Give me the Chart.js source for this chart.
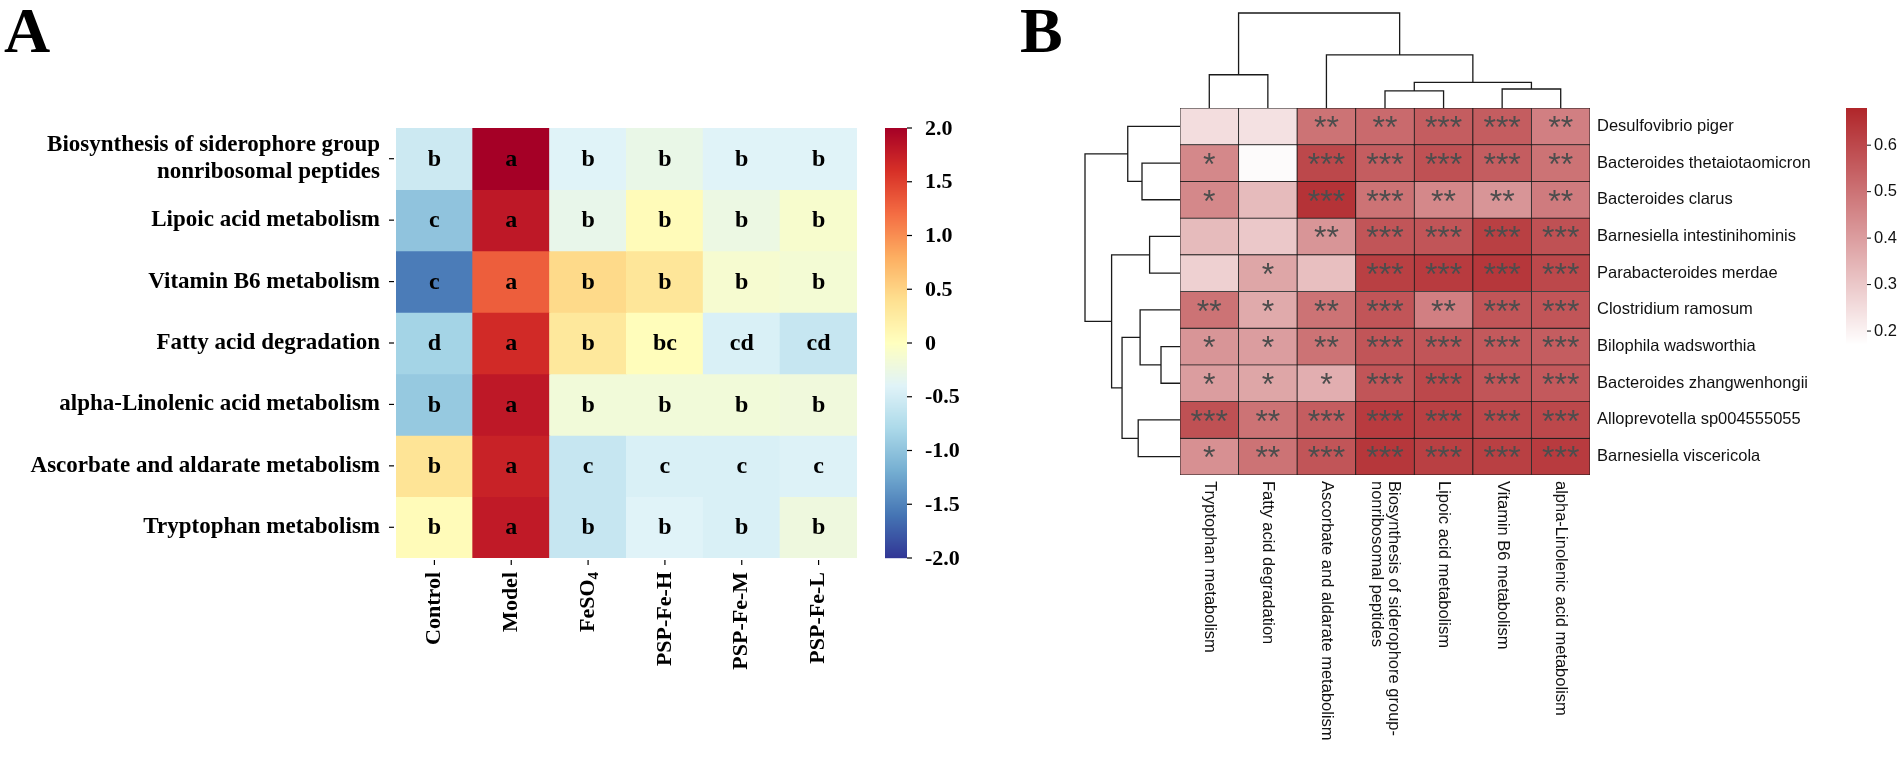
<!DOCTYPE html>
<html>
<head>
<meta charset="utf-8">
<script src="https://cdn.jsdelivr.net/npm/chart.js@4.4.1/dist/chart.umd.min.js"></script>
<style>
html, body { margin: 0; padding: 0; background: #fff; }
#wrap { position: relative; width: 1902px; height: 773px; overflow: hidden; }
canvas { position: absolute; top: 0; }
</style>
</head>
<body>
<div id="wrap">
    <canvas id="panel-a" width="1000" height="773" style="left:0px"></canvas>
    <canvas id="panel-b" width="902" height="773" style="left:1000px"></canvas>
</div>
<script>
// ---------- panel A data ----------
const groupsA = ['Control', 'Model', 'FeSO4', 'PSP-Fe-H', 'PSP-Fe-M', 'PSP-Fe-L'];
const pathwaysA = [
    ['Biosynthesis of siderophore group', 'nonribosomal peptides'],
    ['Lipoic acid metabolism'],
    ['Vitamin B6 metabolism'],
    ['Fatty acid degradation'],
    ['alpha-Linolenic acid metabolism'],
    ['Ascorbate and aldarate metabolism'],
    ['Tryptophan metabolism']
];
const zscoresA = [
    [-0.55, 2.0, -0.4, -0.28, -0.4, -0.4],
    [-1.0, 1.8, -0.3, 0.05, -0.25, -0.1],
    [-1.55, 1.3, 0.45, 0.32, -0.12, -0.15],
    [-0.85, 1.65, 0.3, 0.03, -0.45, -0.6],
    [-0.95, 1.8, -0.18, -0.18, -0.18, -0.2],
    [0.35, 1.72, -0.6, -0.45, -0.45, -0.42],
    [0.05, 1.78, -0.6, -0.4, -0.45, -0.22]
];
const lettersA = [
    ['b', 'a', 'b', 'b', 'b', 'b'],
    ['c', 'a', 'b', 'b', 'b', 'b'],
    ['c', 'a', 'b', 'b', 'b', 'b'],
    ['d', 'a', 'b', 'bc', 'cd', 'cd'],
    ['b', 'a', 'b', 'b', 'b', 'b'],
    ['b', 'a', 'c', 'c', 'c', 'c'],
    ['b', 'a', 'b', 'b', 'b', 'b']
];
const cbarTicksA = [2.0, 1.5, 1.0, 0.5, 0, -0.5, -1.0, -1.5, -2.0];
const cbarTickTextA = ['2.0', '1.5', '1.0', '0.5', '0', '-0.5', '-1.0', '-1.5', '-2.0'];

// ---------- panel B data ----------
const pathwaysB = [
    ['Tryptophan metabolism'],
    ['Fatty acid degradation'],
    ['Ascorbate and aldarate metabolism'],
    ['Biosynthesis of siderophore group-', 'nonribosomal peptides'],
    ['Lipoic acid metabolism'],
    ['Vitamin B6 metabolism'],
    ['alpha-Linolenic acid metabolism']
];
const speciesB = [
    'Desulfovibrio piger',
    'Bacteroides thetaiotaomicron',
    'Bacteroides clarus',
    'Barnesiella intestinihominis',
    'Parabacteroides merdae',
    'Clostridium ramosum',
    'Bilophila wadsworthia',
    'Bacteroides zhangwenhongii',
    'Alloprevotella sp004555055',
    'Barnesiella viscericola'
];
const corrB = [
    [0.25, 0.24, 0.50, 0.52, 0.55, 0.55, 0.47],
    [0.45, 0.18, 0.60, 0.55, 0.58, 0.55, 0.50],
    [0.45, 0.33, 0.65, 0.50, 0.45, 0.42, 0.48],
    [0.33, 0.30, 0.42, 0.57, 0.57, 0.62, 0.58],
    [0.28, 0.38, 0.32, 0.62, 0.63, 0.64, 0.60],
    [0.50, 0.37, 0.50, 0.57, 0.47, 0.57, 0.57],
    [0.42, 0.40, 0.50, 0.57, 0.57, 0.56, 0.55],
    [0.40, 0.38, 0.36, 0.57, 0.60, 0.57, 0.56],
    [0.58, 0.50, 0.55, 0.63, 0.62, 0.60, 0.60],
    [0.43, 0.50, 0.57, 0.64, 0.62, 0.62, 0.63]
];
const starsB = [
    ['', '', '**', '**', '***', '***', '**'],
    ['*', '', '***', '***', '***', '***', '**'],
    ['*', '', '***', '***', '**', '**', '**'],
    ['', '', '**', '***', '***', '***', '***'],
    ['', '*', '', '***', '***', '***', '***'],
    ['**', '*', '**', '***', '**', '***', '***'],
    ['*', '*', '**', '***', '***', '***', '***'],
    ['*', '*', '*', '***', '***', '***', '***'],
    ['***', '**', '***', '***', '***', '***', '***'],
    ['*', '**', '***', '***', '***', '***', '***']
];
// linkage: [childA, childB, height]; leaves are 0..n-1 in display order, merges get n, n+1, ...
const colLinkB = [[3, 4, 0.18], [5, 6, 0.20], [7, 8, 0.27], [0, 1, 0.35], [2, 9, 0.56], [10, 11, 1.0]];
const rowLinkB = [[6, 7, 0.20], [1, 2, 0.40], [3, 4, 0.32], [5, 10, 0.42], [8, 9, 0.44],
                  [0, 11, 0.55], [13, 14, 0.61], [12, 16, 0.72], [15, 17, 1.0]];
const cbarMinB = 0.17;
const cbarMaxB = 0.68;
const cbarTicksB = [0.6, 0.5, 0.4, 0.3, 0.2];

// ---------- colour maps ----------
const rdylbuStops = ['#313695', '#4575b4', '#74add1', '#abd9e9', '#e0f3f8', '#ffffbf',
                     '#fee090', '#fdae61', '#f46d43', '#d73027', '#a50026'];
function hexRgb(h) {
    return [parseInt(h.slice(1, 3), 16), parseInt(h.slice(3, 5), 16), parseInt(h.slice(5, 7), 16)];
}
function rdylbu(v) {
    let t = Math.max(0, Math.min(1, (v + 2) / 4)) * 10;
    let i = Math.min(9, Math.floor(t));
    let f = t - i;
    let a = hexRgb(rdylbuStops[i]), b = hexRgb(rdylbuStops[i + 1]);
    let c = a.map((x, k) => Math.round(x + (b[k] - x) * f));
    return `rgb(${c[0]},${c[1]},${c[2]})`;
}
function reds(v) {
    let t = Math.max(0, Math.min(1, (v - cbarMinB) / (cbarMaxB - cbarMinB)));
    let lo = [255, 255, 255], hi = [176, 38, 42];
    let c = lo.map((x, k) => Math.round(x + (hi[k] - x) * t));
    return `rgb(${c[0]},${c[1]},${c[2]})`;
}

const serif = '"Liberation Serif", "Times New Roman", serif';
const sans = '"Liberation Sans", Arial, sans-serif';

// ---------- panel A ----------
const panelAPlugin = {
    id: 'panelA',
    afterDatasetsDraw(chart) {
        const ctx = chart.ctx;
        const xs = chart.scales.x, ys = chart.scales.y;
        const area = chart.chartArea;
        ctx.save();
        ctx.fillStyle = '#000';
        ctx.strokeStyle = '#000';

        // letters in the cells
        ctx.font = 'bold 24px ' + serif;
        ctx.textAlign = 'center';
        ctx.textBaseline = 'middle';
        lettersA.forEach((row, i) => {
            row.forEach((txt, j) => {
                ctx.fillText(txt, xs.getPixelForValue(j), ys.getPixelForValue(i + 0.5) + 1);
            });
        });

        // row labels + ticks
        ctx.font = 'bold 23px ' + serif;
        ctx.textAlign = 'right';
        ctx.lineWidth = 1.2;
        pathwaysA.forEach((lines, i) => {
            const cy = ys.getPixelForValue(i + 0.5);
            const lh = 27;
            lines.forEach((ln, k) => {
                ctx.fillText(ln, area.left - 16, cy + (k - (lines.length - 1) / 2) * lh);
            });
            ctx.beginPath();
            ctx.moveTo(area.left - 7, cy);
            ctx.lineTo(area.left - 2, cy);
            ctx.stroke();
        });

        // column labels (rotated) + ticks
        groupsA.forEach((g, j) => {
            const cx = xs.getPixelForValue(j);
            ctx.beginPath();
            ctx.moveTo(cx, area.bottom + 2);
            ctx.lineTo(cx, area.bottom + 7);
            ctx.stroke();
            ctx.save();
            ctx.translate(cx, area.bottom + 14);
            ctx.rotate(-Math.PI / 2);
            ctx.textBaseline = 'middle';
            ctx.font = 'bold 22px ' + serif;
            if (g === 'FeSO4') {
                const w1 = ctx.measureText('FeSO').width;
                ctx.font = 'bold 15px ' + serif;
                const w2 = ctx.measureText('4').width;
                ctx.textAlign = 'left';
                ctx.font = 'bold 22px ' + serif;
                ctx.fillText('FeSO', -(w1 + w2), 0);
                ctx.font = 'bold 15px ' + serif;
                ctx.fillText('4', -w2, 6);
            } else {
                ctx.textAlign = 'right';
                ctx.fillText(g, 0, 0);
            }
            ctx.restore();
        });

        // colour bar
        const cbL = area.right + 28, cbW = 22;
        const cbT = area.top, cbB = area.bottom;
        for (let y = cbT; y < cbB; y++) {
            const v = 2 - (y + 0.5 - cbT) / (cbB - cbT) * 4;
            ctx.fillStyle = rdylbu(v);
            ctx.fillRect(cbL, y, cbW, 1.2);
        }
        ctx.fillStyle = '#000';
        ctx.font = 'bold 22px ' + serif;
        ctx.textAlign = 'left';
        ctx.textBaseline = 'middle';
        cbarTicksA.forEach((v, k) => {
            const y = cbT + (2 - v) / 4 * (cbB - cbT);
            ctx.beginPath();
            ctx.moveTo(cbL + cbW, y);
            ctx.lineTo(cbL + cbW + 5, y);
            ctx.stroke();
            ctx.fillText(cbarTickTextA[k], cbL + cbW + 18, y + 1);
        });

        // panel letter
        ctx.font = 'bold 64px ' + serif;
        ctx.textAlign = 'left';
        ctx.textBaseline = 'alphabetic';
        ctx.fillText('A', 4, 52);
        ctx.restore();
    }
};

new Chart(document.getElementById('panel-a'), {
    type: 'bar',
    data: {
        labels: groupsA,
        datasets: zscoresA.map((row, i) => ({
            label: pathwaysA[i].join(' '),
            data: row.map(() => [i, i + 1]),
            backgroundColor: row.map(v => rdylbu(v)),
            borderWidth: 0,
            inflateAmount: 0.5,
            grouped: false,
            barPercentage: 1,
            categoryPercentage: 1
        }))
    },
    options: {
        responsive: false,
        animation: false,
        devicePixelRatio: 1,
        events: [],
        layout: { padding: { left: 396, right: 143, top: 128, bottom: 215 } },
        plugins: { legend: { display: false }, tooltip: { enabled: false } },
        scales: {
            x: { display: false, offset: true, grid: { display: false } },
            y: { display: false, min: 0, max: 7, reverse: true }
        }
    },
    plugins: [panelAPlugin]
});

// ---------- panel B ----------
function drawDendrogram(ctx, link, leafPos, n, baseline, length, vertical) {
    // vertical=true: tree above the heatmap (columns); false: tree to the left (rows)
    const pos = leafPos.slice();
    const hgt = new Array(n).fill(0);
    ctx.beginPath();
    link.forEach(([a, b, h]) => {
        const pa = pos[a], pb = pos[b];
        const ha = hgt[a], hb = hgt[b];
        if (vertical) {
            ctx.moveTo(pa, baseline - ha * length);
            ctx.lineTo(pa, baseline - h * length);
            ctx.lineTo(pb, baseline - h * length);
            ctx.lineTo(pb, baseline - hb * length);
        } else {
            ctx.moveTo(baseline - ha * length, pa);
            ctx.lineTo(baseline - h * length, pa);
            ctx.lineTo(baseline - h * length, pb);
            ctx.lineTo(baseline - hb * length, pb);
        }
        pos.push((pa + pb) / 2);
        hgt.push(h);
    });
    ctx.stroke();
}

const panelBPlugin = {
    id: 'panelB',
    afterDatasetsDraw(chart) {
        const ctx = chart.ctx;
        const xs = chart.scales.x, ys = chart.scales.y;
        const area = chart.chartArea;
        ctx.save();

        // stars
        ctx.fillStyle = '#4d4d4d';
        ctx.font = '32px ' + sans;
        ctx.textAlign = 'center';
        ctx.textBaseline = 'middle';
        starsB.forEach((row, i) => {
            row.forEach((s, j) => {
                if (s) ctx.fillText(s, xs.getPixelForValue(j), ys.getPixelForValue(i + 0.5) + 3);
            });
        });

        // dendrograms
        ctx.strokeStyle = '#1a1a1a';
        ctx.lineWidth = 1.3;
        const colPos = pathwaysB.map((p, j) => xs.getPixelForValue(j));
        drawDendrogram(ctx, colLinkB, colPos, colPos.length, area.top, 95, true);
        const rowPos = speciesB.map((s, i) => ys.getPixelForValue(i + 0.5));
        drawDendrogram(ctx, rowLinkB, rowPos, rowPos.length, area.left, 95, false);

        // row labels
        ctx.fillStyle = '#111';
        ctx.font = '16.5px ' + sans;
        ctx.textAlign = 'left';
        ctx.textBaseline = 'middle';
        speciesB.forEach((s, i) => {
            ctx.fillText(s, area.right + 7, ys.getPixelForValue(i + 0.5));
        });

        // column labels (rotated clockwise)
        pathwaysB.forEach((lines, j) => {
            const cx = xs.getPixelForValue(j);
            ctx.save();
            ctx.translate(cx, area.bottom + 6);
            ctx.rotate(Math.PI / 2);
            ctx.textAlign = 'left';
            ctx.textBaseline = 'middle';
            const lh = 17;
            lines.forEach((ln, k) => {
                ctx.fillText(ln, 0, (k - (lines.length - 1) / 2) * lh);
            });
            ctx.restore();
        });

        // colour bar
        const cbL = area.right + 256, cbW = 21;
        const cbT = area.top, cbB = area.top + 237;
        for (let y = cbT; y < cbB; y++) {
            const v = cbarMaxB - (y + 0.5 - cbT) / (cbB - cbT) * (cbarMaxB - cbarMinB);
            ctx.fillStyle = reds(v);
            ctx.fillRect(cbL, y, cbW, 1.2);
        }
        ctx.fillStyle = '#111';
        ctx.strokeStyle = '#111';
        ctx.lineWidth = 1;
        ctx.font = '16.5px ' + sans;
        cbarTicksB.forEach(v => {
            const y = cbT + (cbarMaxB - v) / (cbarMaxB - cbarMinB) * (cbB - cbT);
            ctx.beginPath();
            ctx.moveTo(cbL + cbW, y);
            ctx.lineTo(cbL + cbW + 4, y);
            ctx.stroke();
            ctx.fillText(v.toFixed(1), cbL + cbW + 7, y);
        });

        // panel letter
        ctx.fillStyle = '#000';
        ctx.font = 'bold 64px ' + serif;
        ctx.textBaseline = 'alphabetic';
        ctx.fillText('B', 20, 52);
        ctx.restore();
    }
};

new Chart(document.getElementById('panel-b'), {
    type: 'bar',
    data: {
        labels: pathwaysB.map(p => p.join(' ')),
        datasets: corrB.map((row, i) => ({
            label: speciesB[i],
            data: row.map(() => [i, i + 1]),
            backgroundColor: row.map(v => reds(v)),
            borderColor: '#1a1a1a',
            borderWidth: 0.8,
            borderSkipped: false,
            grouped: false,
            barPercentage: 1,
            categoryPercentage: 1
        }))
    },
    options: {
        responsive: false,
        animation: false,
        devicePixelRatio: 1,
        events: [],
        layout: { padding: { left: 180, right: 312, top: 108, bottom: 298 } },
        plugins: { legend: { display: false }, tooltip: { enabled: false } },
        scales: {
            x: { display: false, offset: true, grid: { display: false } },
            y: { display: false, min: 0, max: 10, reverse: true }
        }
    },
    plugins: [panelBPlugin]
});
</script>
</body>
</html>
